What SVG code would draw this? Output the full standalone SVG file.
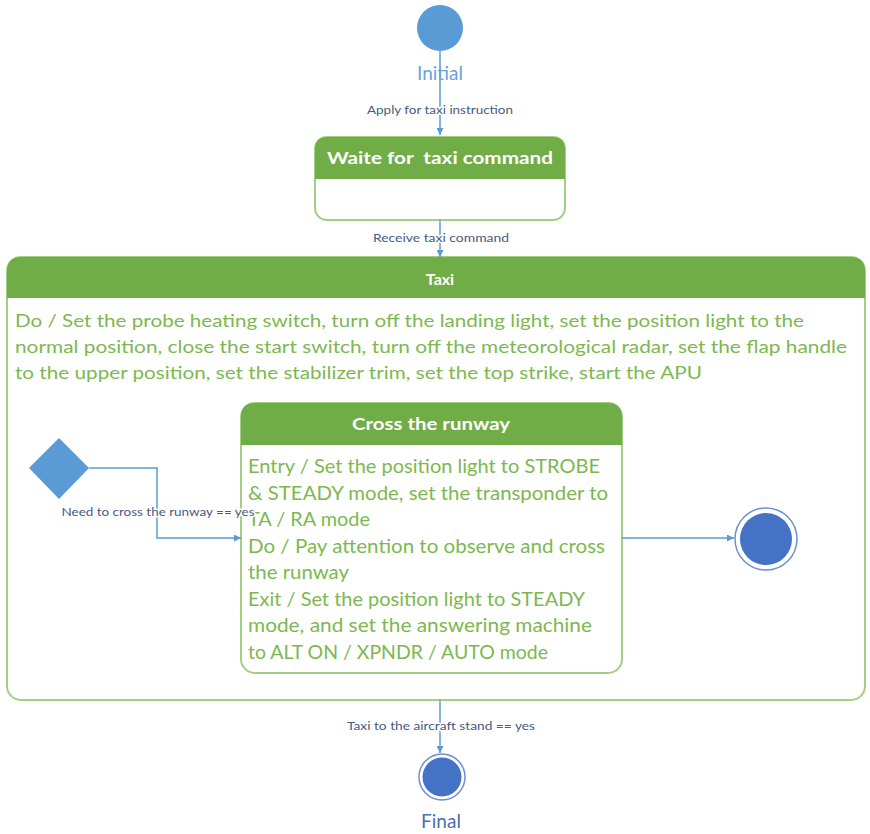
<svg xmlns="http://www.w3.org/2000/svg" width="870" height="834" viewBox="0 0 870 834">
<style>
.box{fill:#ffffff;stroke:#a3cf84;stroke-width:2}
.hdr{fill:#70ad47}
.ttl{font-family:Lato,"Liberation Sans",sans-serif;font-weight:bold;fill:#ffffff;text-anchor:middle}
.body{font-family:Lato,"Liberation Sans",sans-serif;fill:#7cb84f}
.lbl{font-family:Lato,"Liberation Sans",sans-serif;font-size:12px;fill:#475a80;text-anchor:middle;stroke:#ffffff;stroke-width:3;paint-order:stroke;stroke-linejoin:round}
.cap{font-family:Lato,"Liberation Sans",sans-serif;font-size:19px;text-anchor:middle}
.edge{fill:none;stroke:#5b9bd5;stroke-width:1.5}
</style>
<defs>
<marker id="arr" viewBox="0 0 10 10" refX="10" refY="5" markerWidth="7" markerHeight="7" markerUnits="userSpaceOnUse" orient="auto"><path d="M0,0 L10,5 L0,10 Z" fill="#5b9bd5"/></marker>
</defs>
<rect width="870" height="834" fill="#ffffff"/>

<g id="taxi">
<rect class="box" x="7" y="257" width="858" height="443" rx="14"/>
<path class="hdr" d="M7,298 V271 Q7,257 21,257 H851 Q865,257 865,271 V298 Z"/>
<text class="ttl" x="440" y="285" font-size="16">Taxi</text>
<text class="body" font-size="18" x="15" y="327" textLength="789" lengthAdjust="spacingAndGlyphs">Do / Set the probe heating switch, turn off the landing light, set the position light to the</text>
<text class="body" font-size="18" x="15" y="353" textLength="832" lengthAdjust="spacingAndGlyphs">normal position, close the start switch, turn off the meteorological radar, set the flap handle</text>
<text class="body" font-size="18" x="15" y="379" textLength="687" lengthAdjust="spacingAndGlyphs">to the upper position, set the stabilizer trim, set the top strike, start the APU</text>
</g>

<g id="initial">
<circle cx="440" cy="28" r="23" fill="#5b9bd5"/>
</g>

<g id="waite">
<rect class="box" x="315" y="137" width="250" height="83" rx="12"/>
<path class="hdr" d="M315,179 V149 Q315,137 327,137 H553 Q565,137 565,149 V179 Z"/>
<text class="ttl" x="440" y="164" font-size="17.5" textLength="226" lengthAdjust="spacingAndGlyphs" xml:space="preserve">Waite for  taxi command</text>
</g>

<g id="cross">
<rect class="box" x="241" y="403" width="381" height="270" rx="14"/>
<path class="hdr" d="M241,445 V417 Q241,403 255,403 H608 Q622,403 622,417 V445 Z"/>
<text class="ttl" x="431" y="430" font-size="17" textLength="158" lengthAdjust="spacingAndGlyphs">Cross the runway</text>
<text class="body" font-size="19" x="248" y="473" textLength="352" lengthAdjust="spacingAndGlyphs">Entry / Set the position light to STROBE</text>
<text class="body" font-size="19" x="248" y="500" textLength="360" lengthAdjust="spacingAndGlyphs">&amp; STEADY mode, set the transponder to</text>
<text class="body" font-size="19" x="248" y="526" textLength="122" lengthAdjust="spacingAndGlyphs">TA / RA mode</text>
<text class="body" font-size="19" x="248" y="553" textLength="357" lengthAdjust="spacingAndGlyphs">Do / Pay attention to observe and cross</text>
<text class="body" font-size="19" x="248" y="579" textLength="101" lengthAdjust="spacingAndGlyphs">the runway</text>
<text class="body" font-size="19" x="248" y="606" textLength="337" lengthAdjust="spacingAndGlyphs">Exit / Set the position light to STEADY</text>
<text class="body" font-size="19" x="248" y="632" textLength="344" lengthAdjust="spacingAndGlyphs">mode, and set the answering machine</text>
<text class="body" font-size="19" x="248" y="659" textLength="300" lengthAdjust="spacingAndGlyphs">to ALT ON / XPNDR / AUTO mode</text>
</g>

<g id="decision">
<polygon points="59,438 89,468 59,499 29,468" fill="#5b9bd5"/>
</g>

<g id="final-inner">
<circle cx="766" cy="539" r="31" fill="#ffffff" stroke="#6f8fd0" stroke-width="1.5"/>
<circle cx="766" cy="539" r="26" fill="#4472c4"/>
</g>

<g id="final">
<circle cx="442" cy="777" r="23" fill="#ffffff" stroke="#6f8fd0" stroke-width="1.5"/>
<circle cx="442" cy="777" r="19.5" fill="#4472c4"/>
</g>

<g id="connectors">
<path class="edge" d="M440,51 V135" marker-end="url(#arr)"/>
<path class="edge" d="M440,220 V257" marker-end="url(#arr)"/>
<path class="edge" d="M89,468 H157 V538 H241" marker-end="url(#arr)"/>
<path class="edge" d="M622,538 H734" marker-end="url(#arr)"/>
<path class="edge" d="M440,700 V753" marker-end="url(#arr)"/>
</g>

<g id="labels">
<text class="cap" x="440" y="80" fill="#6aa3da">Initial</text>
<text class="lbl" x="440" y="114" textLength="146" lengthAdjust="spacingAndGlyphs">Apply for taxi instruction</text>
<text class="lbl" x="441" y="242" textLength="136" lengthAdjust="spacingAndGlyphs">Receive taxi command</text>
<text class="lbl" x="158" y="516" textLength="193" lengthAdjust="spacingAndGlyphs">Need to cross the runway == yes</text>
<text class="lbl" x="441" y="730" textLength="188" lengthAdjust="spacingAndGlyphs">Taxi to the aircraft stand == yes</text>
<text class="cap" x="441" y="828" fill="#4a6fb0">Final</text>
</g>
</svg>
